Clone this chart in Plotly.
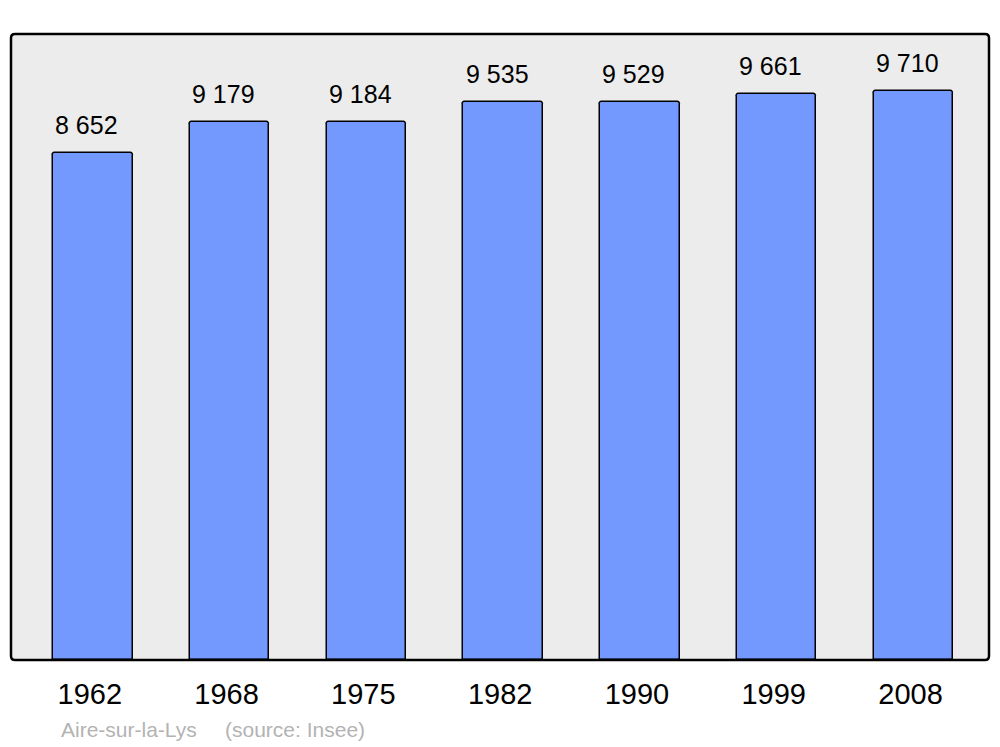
import plotly.graph_objects as go

years = ["1962", "1968", "1975", "1982", "1990", "1999", "2008"]
population = [8652, 9179, 9184, 9535, 9529, 9661, 9710]
value_labels = ["8 652", "9 179", "9 184", "9 535", "9 529", "9 661", "9 710"]
town = "Aire-sur-la-Lys"
source = "(source: Insee)"

FONT = "Liberation Sans, Arial, sans-serif"
xs = list(range(len(years)))

fig = go.Figure()
fig.add_trace(go.Bar(
    x=xs, y=population, width=0.581,
    marker=dict(color="#7399ff", line=dict(color="#000000", width=1.5), cornerradius=3),
    hoverinfo="skip",
))

for i, (v, t) in enumerate(zip(population, value_labels)):
    fig.add_annotation(x=i, y=v, xref="x", yref="y", text=t, showarrow=False,
                       yanchor="middle", yshift=28, xshift=-6,
                       font=dict(family=FONT, size=25, color="#000000"))

fig.add_annotation(x=(61 - 11) / 978, y=-0.1118, xref="paper", yref="paper", text=town,
                   showarrow=False, xanchor="left", yanchor="middle", xshift=-2,
                   font=dict(family=FONT, size=21, color="#b3b3b3"))
fig.add_annotation(x=(225 - 11) / 978, y=-0.1118, xref="paper", yref="paper", text=source,
                   showarrow=False, xanchor="left", yanchor="middle", xshift=-2,
                   font=dict(family=FONT, size=21, color="#b3b3b3"))

# rounded frame around plot area
rx, ry = 4 / 978, 4 / 626
x0, x1, y0, y1 = 0, 1, 0, 1
path = (f"M {x0+rx},{y0} L {x1-rx},{y0} Q {x1},{y0} {x1},{y0+ry} "
        f"L {x1},{y1-ry} Q {x1},{y1} {x1-rx},{y1} L {x0+rx},{y1} Q {x0},{y1} {x0},{y1-ry} "
        f"L {x0},{y0+ry} Q {x0},{y0} {x0+rx},{y0} Z")
fig.add_shape(type="path", path=path, xref="paper", yref="paper",
              line=dict(color="#000000", width=2.5), layer="above")

fig.update_layout(
    width=1000, height=747,
    margin=dict(l=11, r=11, t=34, b=87),
    paper_bgcolor="#ffffff", plot_bgcolor="#ececec",
    showlegend=False,
    bargap=0,
    xaxis=dict(range=[-0.598, 6.552], tickvals=xs, ticktext=years,
               showgrid=False, zeroline=False, showline=False,
               ticks="outside", ticklen=8, tickcolor="rgba(0,0,0,0)",
               ticklabelshift=-3,
               tickfont=dict(family=FONT, size=29, color="#000000"), fixedrange=True),
    yaxis=dict(range=[0, 10688], showgrid=False, zeroline=False, showline=False,
               showticklabels=False, fixedrange=True),
)

fig.write_html("out.html", config={"displayModeBar": False},
               post_script="document.body.style.margin='0';document.body.style.overflow='hidden';")
